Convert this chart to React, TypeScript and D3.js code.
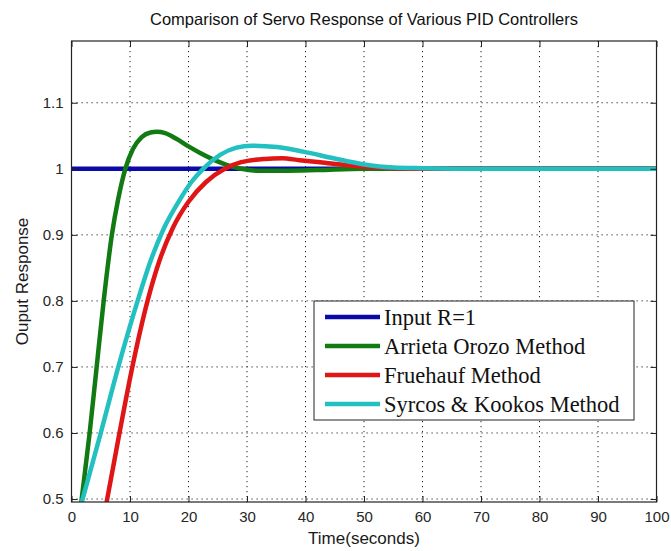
import React, { useRef, useEffect } from 'react';
import * as d3 from 'd3';

// series data (time in seconds, output response)
const inputTime = [0, 100];
const inputValues = [1, 1];

const arrietaTime = [1.0, 1.74, 3.1, 4.3, 5.5, 6.9, 8.0, 9.2, 10.5, 12.0, 13.5, 14.6, 16.0, 18.0, 20.0, 22.0, 24.0, 26.5, 29, 32, 36, 42, 50, 60, 100];
const arrietaValues = [0.445, 0.5, 0.6, 0.7, 0.8, 0.9, 0.955, 1.0, 1.03, 1.048, 1.055, 1.056, 1.054, 1.045, 1.034, 1.024, 1.015, 1.006, 1.0, 0.997, 0.997, 0.998, 1.0, 1.0, 1.0];

const fruehaufTime = [5.0, 6.1, 8.2, 10.4, 13.0, 15.0, 17.3, 20.0, 23.0, 26.2, 29, 33, 36, 39, 42.5, 46.4, 50, 55, 60, 100];
const fruehaufValues = [0.445, 0.5, 0.6, 0.7, 0.8, 0.86, 0.91, 0.95, 0.98, 1.0, 1.01, 1.015, 1.016, 1.013, 1.01, 1.006, 1.003, 1.001, 1.0, 1.0];

const syrcosTime = [0.5, 1.9, 5.0, 8.0, 11.3, 13.5, 15.8, 18.5, 20.5, 22.5, 25.4, 28.2, 30.8, 35.1, 39.6, 44.8, 49.8, 55, 60, 70, 100];
const syrcosValues = [0.455, 0.5, 0.6, 0.7, 0.8, 0.86, 0.91, 0.953, 0.98, 1.0, 1.021, 1.032, 1.035, 1.033, 1.026, 1.016, 1.007, 1.002, 1.001, 1.0, 1.0];

const seriesNames = ['Input R=1', 'Arrieta Orozo Method', 'Fruehauf Method', 'Syrcos & Kookos Method'];
const seriesColors = ['#0a0aa8', '#127a12', '#e01515', '#22c0c0'];

const xTicks = [0, 10, 20, 30, 40, 50, 60, 70, 80, 90, 100];
const yTicks = [0.5, 0.6, 0.7, 0.8, 0.9, 1, 1.1];

const WIDTH = 671;
const HEIGHT = 551;

const App = () => {
  const svgRef = useRef<SVGSVGElement>(null);

  useEffect(() => {
    const svg = d3.select(svgRef.current);
    svg.selectAll('*').remove();

    const left = 71.5, right = 656.5, top = 41, bottom = 502;
    const x = d3.scaleLinear().domain([0, 100]).range([left, right]);
    const y = d3.scaleLinear().domain([0.4955, 1.1935]).range([bottom, top]);

    svg.append('rect').attr('width', WIDTH).attr('height', HEIGHT).attr('fill', '#fff');

    // title
    svg.append('text')
      .attr('x', (left + right) / 2)
      .attr('y', 25)
      .attr('text-anchor', 'middle')
      .attr('font-family', 'Arial, "Liberation Sans", sans-serif')
      .attr('font-size', 16.5)
      .attr('fill', '#111')
      .text('Comparison of Servo Response of Various PID Controllers');

    // grid
    const grid = svg.append('g')
      .attr('stroke', '#222')
      .attr('stroke-width', 1)
      .attr('stroke-dasharray', '1.2 3.8');
    grid.selectAll('line.v')
      .data(xTicks.filter(t => t > 0 && t < 100))
      .enter().append('line')
        .attr('x1', d => x(d)).attr('x2', d => x(d))
        .attr('y1', top).attr('y2', bottom);
    grid.selectAll('line.h')
      .data(yTicks)
      .enter().append('line')
        .attr('x1', left).attr('x2', right)
        .attr('y1', d => y(d)).attr('y2', d => y(d));

    // curves
    svg.append('defs').append('clipPath').attr('id', 'plot-clip')
      .append('rect')
        .attr('x', left).attr('y', top)
        .attr('width', right - left).attr('height', bottom - top);

    const line = d3.line<[number, number]>()
      .x(d => x(d[0]))
      .y(d => y(d[1]))
      .curve(d3.curveMonotoneX);

    const series: [number[], number[]][] = [
      [inputTime, inputValues],
      [arrietaTime, arrietaValues],
      [fruehaufTime, fruehaufValues],
      [syrcosTime, syrcosValues],
    ];

    const curves = svg.append('g').attr('clip-path', 'url(#plot-clip)');
    series.forEach(([ts, vs], i) => {
      curves.append('path')
        .attr('d', line(ts.map((t, j) => [t, vs[j]] as [number, number])))
        .attr('fill', 'none')
        .attr('stroke', seriesColors[i])
        .attr('stroke-width', 4.5)
        .attr('stroke-linejoin', 'round');
    });

    // axes box and inward ticks
    const axisFont = (g: any) => {
      g.selectAll('text')
        .attr('font-family', 'Arial, "Liberation Sans", sans-serif')
        .attr('font-size', 15)
        .attr('fill', '#262626');
      g.selectAll('line').attr('stroke', '#222');
      g.select('.domain').remove();
    };

    svg.append('g')
      .attr('transform', `translate(0,${bottom})`)
      .call(d3.axisBottom(x).tickValues(xTicks).tickSize(-6).tickPadding(9).tickFormat(d3.format('d')))
      .call(axisFont);
    svg.append('g')
      .attr('transform', `translate(0,${top})`)
      .call(d3.axisTop(x).tickValues(xTicks).tickSize(-6).tickFormat(() => ''))
      .call(axisFont);
    svg.append('g')
      .attr('transform', `translate(${left},0)`)
      .call(d3.axisLeft(y).tickValues(yTicks).tickSize(-6).tickPadding(8).tickFormat(d => String(+(+d).toFixed(1))))
      .call(axisFont);
    svg.append('g')
      .attr('transform', `translate(${right},0)`)
      .call(d3.axisRight(y).tickValues(yTicks).tickSize(-6).tickFormat(() => ''))
      .call(axisFont);

    svg.append('rect')
      .attr('x', left).attr('y', top)
      .attr('width', right - left).attr('height', bottom - top)
      .attr('fill', 'none')
      .attr('stroke', '#222')
      .attr('stroke-width', 1.2);

    // axis labels
    svg.append('text')
      .attr('x', (left + right) / 2)
      .attr('y', 544)
      .attr('text-anchor', 'middle')
      .attr('font-family', 'Arial, "Liberation Sans", sans-serif')
      .attr('font-size', 17)
      .attr('fill', '#1a1a1a')
      .text('Time(seconds)');
    svg.append('text')
      .attr('transform', `translate(28,${(top + bottom) / 2 + 10}) rotate(-90)`)
      .attr('text-anchor', 'middle')
      .attr('font-family', 'Arial, "Liberation Sans", sans-serif')
      .attr('font-size', 17)
      .attr('fill', '#1a1a1a')
      .text('Ouput Response');

    // legend
    const legend = svg.append('g').attr('transform', 'translate(314,301)');
    legend.append('rect')
      .attr('width', 320).attr('height', 119)
      .attr('fill', '#fff')
      .attr('stroke', '#222')
      .attr('stroke-width', 1);
    const rows = legend.selectAll('g.row')
      .data(seriesNames)
      .enter().append('g')
        .attr('transform', (d, i) => `translate(0,${16 + i * 29})`);
    rows.append('line')
      .attr('x1', 11).attr('x2', 66)
      .attr('stroke', (d, i) => seriesColors[i])
      .attr('stroke-width', 4.5);
    rows.append('text')
      .attr('x', 70)
      .attr('y', 8)
      .attr('font-family', '"Times New Roman", "Liberation Serif", serif')
      .attr('font-size', 22.5)
      .attr('fill', '#111')
      .text(d => d);
  }, []);

  return (
    <div style={{ position: 'absolute', left: 0, top: 0 }}>
      <svg ref={svgRef} width={WIDTH} height={HEIGHT} style={{ display: 'block' }}></svg>
    </div>
  );
};

export default App;
